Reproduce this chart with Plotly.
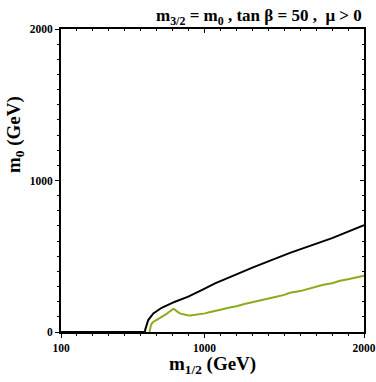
import plotly.graph_objects as go

# black boundary curve (m_1/2 in GeV, m_0 in GeV)
black_m12 = [100, 627, 628, 633, 647, 679, 731, 815, 898, 982, 1066, 1200, 1300, 1536, 1800, 2000]
black_m0 = [0, 0, 15, 35, 79, 123, 160, 200, 233, 277, 321, 380, 425, 522, 620, 705]

# green curve
green_m12 = [655, 660, 664, 672, 679, 690, 700, 712, 721, 735, 750, 762, 773, 783, 792, 804,
             812, 820, 828, 836, 848, 860, 870, 878, 895, 910, 925, 940, 960, 980, 1003, 1030,
             1066, 1100, 1150, 1200, 1250, 1300, 1350, 1400, 1450, 1500, 1536, 1600, 1650,
             1700, 1745, 1800, 1850, 1900, 1950, 2000]
green_m0 = [0, 25, 46, 58, 68, 74, 80, 86, 90, 99, 110, 119, 129, 138, 146, 152,
            149, 140, 134, 129, 121, 117, 114, 112, 110, 109, 111, 112, 117, 119, 123, 130,
            141, 147, 160, 170, 185, 196, 210, 220, 233, 245, 259, 270, 285, 297, 312, 322,
            338, 348, 360, 372]

xticks = [100, 1000, 2000]
yticks = [0, 1000, 2000]

serif = "Liberation Serif"

fig = go.Figure()
fig.add_trace(go.Scatter(x=black_m12, y=black_m0, mode="lines",
                         line=dict(color="black", width=2), showlegend=False))
fig.add_trace(go.Scatter(x=green_m12, y=green_m0, mode="lines",
                         line=dict(color="#8aab1e", width=2), showlegend=False))
# dummy trace so the top/right tick axes get drawn
fig.add_trace(go.Scatter(x=[None], y=[None], xaxis="x2", yaxis="y2", showlegend=False))

common = dict(showgrid=False, zeroline=False, showline=True, linecolor="black", linewidth=2,
              automargin=False, tickcolor="black", ticklen=4)

fig.update_layout(
    width=376, height=382,
    margin=dict(l=61, r=12, t=29, b=50),
    plot_bgcolor="white", paper_bgcolor="white",
    font=dict(family=serif, color="black"),
    xaxis=dict(range=[100, 2000], tickvals=xticks, ticktext=[f"<b>{v}</b>" for v in xticks],
               ticks="outside", tickfont=dict(size=11.5),
               minor=dict(dtick=100, tick0=100, ticks="outside", ticklen=2, tickcolor="black"),
               **common),
    yaxis=dict(range=[0, 2000], tickvals=yticks, ticktext=[f"<b>{v}</b>" for v in yticks],
               ticks="outside", tickfont=dict(size=11.5),
               minor=dict(dtick=100, tick0=0, ticks="outside", ticklen=2, tickcolor="black"),
               **common),
    xaxis2=dict(range=[100, 2000], overlaying="x", side="top", anchor="y",
                tickvals=xticks, showticklabels=False, ticks="inside",
                minor=dict(dtick=100, tick0=100, ticks="inside", ticklen=2, tickcolor="black"),
                **common),
    yaxis2=dict(range=[0, 2000], overlaying="y", side="right", anchor="x",
                tickvals=yticks, showticklabels=False, ticks="inside",
                minor=dict(dtick=100, tick0=0, ticks="inside", ticklen=2, tickcolor="black"),
                **common),
)

fig.add_annotation(text="<b>m<sub>3/2</sub> = m<sub>0</sub> , tan β = 50 ,  μ > 0</b>",
                   xref="paper", yref="paper", x=1.0, y=1.0, xanchor="right", yanchor="bottom",
                   yshift=-1, showarrow=False, font=dict(size=17, family=serif))
fig.add_annotation(text="<b>m<sub>1/2</sub> (GeV)</b>", xref="paper", yref="paper",
                   x=0.5, y=0, yshift=-19, xanchor="center", yanchor="top",
                   showarrow=False, font=dict(size=19, family=serif))
fig.add_annotation(text="<b>m<sub>0</sub> (GeV)</b>", xref="paper", yref="paper",
                   x=0, xshift=-32, y=0.65, xanchor="right", yanchor="middle", textangle=-90,
                   showarrow=False, font=dict(size=19, family=serif))

# drop the default page margin so the 376x382 figure fills the window
fig.write_html("out.html", config={"displayModeBar": False},
               post_script="document.body.style.margin='0';document.body.style.overflow='hidden';")
